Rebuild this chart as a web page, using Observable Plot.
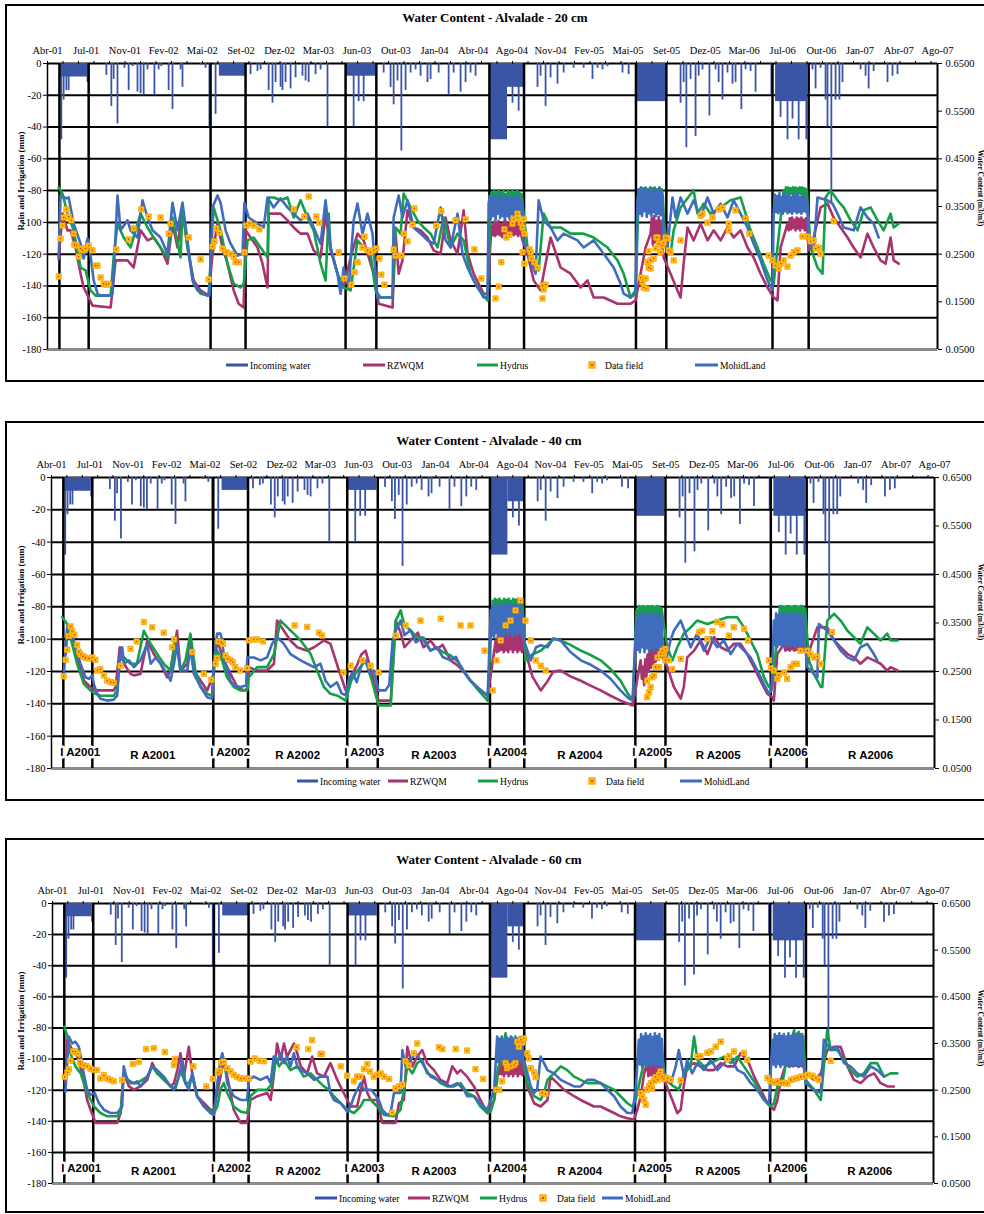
<!DOCTYPE html>
<html><head><meta charset="utf-8">
<script src="https://cdn.jsdelivr.net/npm/d3@7"></script>
<script src="https://cdn.jsdelivr.net/npm/@observablehq/plot@0.6"></script>
<style>
html,body{margin:0;padding:0;background:#fff;}
body{position:relative;width:984px;height:1214px;overflow:hidden;font-family:"Liberation Serif","Times New Roman",serif;color:#000;}
.frame{position:absolute;left:5px;width:1000px;border:2px solid #000;box-sizing:border-box;background:#fff;}
.title{position:absolute;font-weight:bold;font-size:13px;transform:translate(-50%,-50%);white-space:nowrap;}
.lg{position:absolute;font-size:9.6px;white-space:nowrap;transform:translateY(-50%);}
.lgline{position:absolute;height:3px;transform:translateY(-50%);}
.lgmark{position:absolute;width:5px;height:5px;background:#FFC000;border:1px solid #F0A020;transform:translate(-50%,-50%);}
.lgdot{position:absolute;width:2px;height:2px;background:#E0301E;transform:translate(-50%,-50%);}
.ylab{position:absolute;font-weight:bold;font-size:9px;white-space:nowrap;transform:translate(-50%,-50%) rotate(-90deg);}
.ylabR{position:absolute;font-weight:bold;font-size:7.5px;white-space:nowrap;transform:translate(-50%,-50%) rotate(90deg);}
.plot{position:absolute;left:0;}
</style></head><body>
<script>
// ---------- axis / categories ----------
// x values are days counted from 12 Apr 2001
const SPAN = 2314;
const monthLabels = ["Abr-01","Jul-01","Nov-01","Fev-02","Mai-02","Set-02","Dez-02","Mar-03","Jun-03","Out-03","Jan-04","Abr-04","Ago-04","Nov-04","Fev-05","Mai-05","Set-05","Dez-05","Mar-06","Jul-06","Out-06","Jan-07","Abr-07","Ago-07"];
const leftTicks = [-180,-160,-140,-120,-100,-80,-60,-40,-20,0];
const rightTicks = [0.05,0.15,0.25,0.35,0.45,0.55,0.65];
const seasonYears = [2001,2002,2003,2004,2005,2006];
const irrigation = [[31,107],[424,515],[775,855],[1149,1239],[1530,1609],[1885,1979]];
const seriesNames = ["Incoming water","RZWQM","Hydrus","Data field","MohidLand"];
const depthTitles = ["Water Content - Alvalade - 20 cm","Water Content - Alvalade - 40 cm","Water Content - Alvalade - 60 cm"];

// ---------- incoming water (mm, negative downward) ----------
const rainBlocks = [[34,104,-8.5],[447,515,-8],[777,853,-8],[1149,1196,-48],[1196,1238,-15],[1531,1607,-24],[1893,1976,-24]];
const rainSpikes = [[36,-48],[42,-23],[49,-17],[55,-17],[104,-12],[153,-7.5],[166,-27],[172,-10],[182,-38],[200,-3],[211,-17],[221,-2],[234,-18],[242,-19],[250,-20],[260,-4],[278,-20],[289,-4],[296,-2],[315,-17],[325,-29],[346,-4],[351,-15],[398,-1],[411,-3],[421,-40],[437,-32],[528,-7],[546,-5],[554,-4],[575,-17],[585,-25],[593,-12],[606,-15],[611,-17],[619,-12],[632,-16],[645,-9],[663,-8],[671,-11],[679,-12],[697,-7],[710,-4],[728,-40],[796,-40],[809,-24],[822,-24],[874,-6],[892,-15],[900,-26],[910,-11],[920,-55],[931,-17],[944,-6],[957,-4],[970,-8],[988,-12],[996,-10],[1017,-6],[1043,-20],[1056,-6],[1074,-18],[1087,-12],[1100,-6],[1113,-8],[1209,-25],[1225,-30],[1274,-15],[1282,-8],[1295,-27],[1308,-9],[1326,-13],[1342,-6],[1368,-3],[1394,-3],[1417,-10],[1430,-3],[1443,-4],[1456,-2],[1495,-6],[1511,-7],[1646,-25],[1654,-12],[1661,-53],[1672,-10],[1685,-46],[1693,-8],[1703,-4],[1721,-33],[1737,-4],[1745,-12],[1755,-23],[1768,-6],[1781,-13],[1789,-12],[1804,-29],[1815,-4],[1828,-5],[1841,-18],[1882,-20],[1906,-34],[1924,-48],[1937,-35],[1953,-48],[1973,-48],[1989,-4],[1997,-16],[2010,-3],[2023,-23],[2028,-40],[2038,-88],[2049,-23],[2059,-23],[2067,-12],[2114,-4],[2127,-8],[2135,-16],[2148,-5],[2184,-12],[2197,-8],[2210,-7]];

// ---------- 20 cm water content (m3/m3) ----------
const mohid20 = [[29,0.241],[34,0.373],[49,0.367],[55,0.369],[68,0.314],[86,0.272],[94,0.241],[104,0.283],[107,0.279],[120,0.195],[130,0.167],[138,0.163],[164,0.163],[169,0.167],[177,0.289],[182,0.373],[190,0.300],[208,0.321],[216,0.300],[234,0.285],[247,0.363],[260,0.327],[273,0.300],[294,0.285],[312,0.251],[325,0.358],[338,0.300],[351,0.358],[364,0.279],[377,0.195],[390,0.174],[416,0.163],[421,0.163],[429,0.348],[442,0.373],[450,0.358],[463,0.300],[476,0.272],[494,0.247],[507,0.251],[512,0.358],[523,0.327],[546,0.314],[562,0.306],[572,0.369],[588,0.348],[606,0.367],[624,0.348],[640,0.335],[658,0.321],[676,0.335],[692,0.306],[710,0.272],[723,0.363],[736,0.264],[754,0.209],[762,0.167],[770,0.222],[783,0.180],[796,0.321],[806,0.356],[819,0.293],[832,0.335],[845,0.293],[858,0.159],[897,0.159],[900,0.327],[913,0.373],[923,0.327],[936,0.363],[952,0.306],[970,0.293],[988,0.279],[1004,0.272],[1022,0.348],[1035,0.279],[1048,0.264],[1066,0.335],[1079,0.251],[1092,0.222],[1108,0.195],[1134,0.159],[1144,0.159],[1147,0.356],[1150,0.372],[1153,0.325],[1156,0.368],[1159,0.33],[1162,0.375],[1165,0.322],[1168,0.365],[1171,0.335],[1174,0.378],[1177,0.326],[1180,0.37],[1183,0.33],[1186,0.362],[1189,0.322],[1192,0.374],[1195,0.33],[1198,0.368],[1201,0.325],[1204,0.372],[1207,0.334],[1210,0.366],[1213,0.322],[1216,0.37],[1219,0.33],[1222,0.376],[1225,0.326],[1228,0.365],[1231,0.335],[1234,0.36],[1238,0.279],[1256,0.237],[1269,0.209],[1277,0.363],[1290,0.321],[1308,0.306],[1326,0.279],[1342,0.293],[1378,0.279],[1394,0.264],[1420,0.279],[1446,0.251],[1472,0.222],[1490,0.188],[1498,0.167],[1516,0.159],[1529,0.174],[1534,0.363],[1537,0.386],[1540,0.335],[1543,0.39],[1546,0.33],[1549,0.382],[1552,0.34],[1555,0.388],[1558,0.328],[1561,0.384],[1564,0.336],[1567,0.39],[1570,0.33],[1573,0.38],[1576,0.338],[1579,0.387],[1582,0.33],[1585,0.384],[1588,0.335],[1591,0.39],[1594,0.332],[1597,0.38],[1600,0.34],[1602,0.285],[1612,0.264],[1625,0.369],[1633,0.327],[1646,0.369],[1664,0.335],[1680,0.363],[1698,0.327],[1716,0.369],[1732,0.335],[1750,0.356],[1768,0.327],[1784,0.363],[1802,0.335],[1820,0.306],[1836,0.272],[1854,0.237],[1872,0.195],[1885,0.174],[1888,0.335],[1891,0.375],[1894,0.338],[1897,0.372],[1900,0.336],[1903,0.378],[1906,0.34],[1909,0.37],[1912,0.335],[1915,0.376],[1918,0.34],[1921,0.372],[1924,0.336],[1927,0.378],[1930,0.338],[1933,0.37],[1936,0.335],[1939,0.376],[1942,0.34],[1945,0.372],[1948,0.336],[1951,0.378],[1954,0.338],[1957,0.37],[1960,0.335],[1963,0.376],[1966,0.34],[1969,0.372],[1972,0.338],[1975,0.36],[1979,0.279],[1992,0.258],[2002,0.369],[2028,0.363],[2041,0.356],[2054,0.335],[2070,0.306],[2096,0.300],[2114,0.348],[2132,0.327],[2148,0.314],[2161,0.285]];
const rzwqm20 = [[29,0.241],[39,0.335],[52,0.300],[60,0.300],[73,0.264],[86,0.209],[94,0.180],[107,0.159],[117,0.142],[164,0.138],[169,0.174],[177,0.237],[190,0.237],[208,0.237],[224,0.222],[242,0.300],[260,0.279],[276,0.285],[294,0.264],[312,0.230],[325,0.314],[338,0.264],[351,0.342],[364,0.264],[380,0.195],[398,0.174],[419,0.163],[429,0.251],[442,0.314],[455,0.264],[468,0.230],[484,0.174],[497,0.146],[510,0.138],[515,0.300],[528,0.285],[546,0.264],[559,0.230],[572,0.180],[575,0.335],[588,0.335],[606,0.335],[624,0.321],[640,0.306],[658,0.293],[676,0.293],[692,0.258],[710,0.243],[723,0.335],[736,0.258],[754,0.209],[770,0.180],[788,0.243],[806,0.293],[822,0.279],[848,0.209],[861,0.146],[897,0.138],[905,0.293],[913,0.209],[923,0.237],[936,0.342],[952,0.306],[970,0.300],[988,0.285],[1004,0.258],[1022,0.251],[1035,0.327],[1048,0.279],[1066,0.251],[1082,0.342],[1092,0.251],[1108,0.209],[1134,0.167],[1144,0.167],[1152,0.279],[1155,0.31],[1158,0.29],[1161,0.318],[1164,0.288],[1167,0.315],[1170,0.292],[1173,0.32],[1176,0.29],[1179,0.312],[1182,0.286],[1185,0.318],[1188,0.295],[1191,0.32],[1194,0.29],[1197,0.314],[1200,0.288],[1203,0.32],[1206,0.294],[1209,0.316],[1212,0.29],[1215,0.32],[1218,0.292],[1221,0.315],[1224,0.288],[1227,0.32],[1230,0.295],[1235,0.279],[1248,0.251],[1264,0.195],[1282,0.174],[1290,0.209],[1308,0.285],[1334,0.222],[1360,0.209],[1386,0.180],[1404,0.195],[1420,0.159],[1446,0.159],[1482,0.146],[1516,0.146],[1529,0.153],[1542,0.209],[1555,0.264],[1568,0.293],[1571,0.325],[1574,0.27],[1577,0.33],[1580,0.275],[1583,0.32],[1586,0.27],[1589,0.328],[1592,0.28],[1595,0.32],[1598,0.27],[1602,0.243],[1620,0.209],[1638,0.174],[1646,0.159],[1654,0.230],[1664,0.306],[1680,0.279],[1698,0.314],[1716,0.279],[1732,0.300],[1750,0.279],[1768,0.306],[1784,0.285],[1802,0.300],[1820,0.264],[1836,0.243],[1854,0.209],[1872,0.180],[1888,0.159],[1898,0.153],[1906,0.264],[1924,0.314],[1927,0.30],[1930,0.325],[1933,0.302],[1936,0.327],[1939,0.305],[1942,0.322],[1945,0.30],[1948,0.327],[1951,0.304],[1954,0.324],[1957,0.30],[1960,0.327],[1963,0.305],[1966,0.322],[1969,0.30],[1972,0.325],[1975,0.305],[1979,0.258],[1992,0.285],[2010,0.348],[2028,0.356],[2044,0.327],[2062,0.306],[2080,0.285],[2096,0.264],[2114,0.243],[2132,0.293],[2148,0.264],[2166,0.237],[2179,0.230],[2192,0.285],[2200,0.237],[2213,0.230]];
const hydrus20 = [[29,0.390],[39,0.377],[52,0.335],[68,0.300],[86,0.222],[99,0.216],[112,0.174],[125,0.163],[164,0.163],[172,0.243],[182,0.314],[198,0.285],[216,0.264],[242,0.335],[260,0.306],[276,0.285],[294,0.264],[312,0.243],[325,0.327],[346,0.243],[351,0.348],[364,0.264],[380,0.188],[398,0.167],[419,0.163],[432,0.348],[450,0.300],[468,0.230],[484,0.188],[502,0.180],[510,0.188],[520,0.279],[536,0.285],[554,0.264],[572,0.243],[575,0.369],[588,0.369],[606,0.363],[624,0.369],[640,0.327],[658,0.363],[676,0.327],[692,0.300],[710,0.230],[723,0.195],[731,0.335],[736,0.264],[754,0.209],[770,0.180],[788,0.174],[806,0.279],[822,0.264],[840,0.251],[853,0.174],[866,0.159],[897,0.159],[905,0.306],[918,0.293],[926,0.377],[944,0.348],[962,0.321],[978,0.306],[996,0.293],[1014,0.264],[1030,0.327],[1048,0.264],[1066,0.293],[1082,0.279],[1100,0.209],[1118,0.180],[1144,0.153],[1152,0.348],[1155,0.38],[1158,0.355],[1161,0.384],[1164,0.352],[1167,0.378],[1170,0.356],[1173,0.384],[1176,0.35],[1179,0.38],[1182,0.358],[1185,0.384],[1188,0.352],[1191,0.376],[1194,0.355],[1197,0.384],[1200,0.35],[1203,0.38],[1206,0.356],[1209,0.384],[1212,0.352],[1215,0.378],[1218,0.355],[1221,0.384],[1224,0.35],[1227,0.38],[1230,0.355],[1233,0.376],[1236,0.348],[1248,0.264],[1264,0.222],[1277,0.216],[1290,0.335],[1308,0.306],[1334,0.306],[1360,0.293],[1394,0.293],[1420,0.285],[1456,0.264],[1482,0.237],[1498,0.209],[1516,0.159],[1529,0.167],[1537,0.377],[1540,0.365],[1543,0.39],[1546,0.363],[1549,0.388],[1552,0.366],[1555,0.39],[1558,0.364],[1561,0.386],[1564,0.367],[1567,0.39],[1570,0.363],[1573,0.388],[1576,0.366],[1579,0.39],[1582,0.364],[1585,0.386],[1588,0.368],[1591,0.39],[1594,0.364],[1597,0.386],[1600,0.37],[1603,0.314],[1612,0.264],[1620,0.251],[1628,0.300],[1646,0.348],[1680,0.384],[1690,0.335],[1706,0.356],[1724,0.335],[1750,0.348],[1776,0.363],[1802,0.369],[1815,0.335],[1828,0.300],[1846,0.264],[1862,0.230],[1880,0.195],[1888,0.188],[1898,0.264],[1914,0.384],[1917,0.376],[1920,0.39],[1923,0.377],[1926,0.39],[1929,0.375],[1932,0.388],[1935,0.377],[1938,0.39],[1941,0.376],[1944,0.39],[1947,0.375],[1950,0.388],[1953,0.377],[1956,0.39],[1959,0.376],[1962,0.39],[1965,0.375],[1968,0.388],[1971,0.377],[1974,0.386],[1984,0.264],[2002,0.222],[2015,0.209],[2023,0.369],[2036,0.384],[2054,0.363],[2070,0.348],[2088,0.321],[2106,0.300],[2122,0.342],[2140,0.348],[2158,0.321],[2174,0.300],[2192,0.335],[2200,0.306],[2213,0.314]];
const field20 = [[29,0.203],[34,0.283],[39,0.310],[42,0.327],[49,0.344],[55,0.329],[62,0.321],[68,0.293],[70,0.270],[75,0.268],[81,0.245],[86,0.262],[91,0.258],[99,0.262],[107,0.268],[117,0.258],[125,0.226],[130,0.226],[138,0.201],[146,0.188],[153,0.186],[159,0.188],[179,0.260],[211,0.281],[224,0.304],[244,0.344],[263,0.329],[294,0.327],[315,0.293],[320,0.314],[367,0.285],[398,0.239],[419,0.197],[429,0.266],[434,0.277],[439,0.304],[447,0.295],[455,0.262],[465,0.254],[476,0.251],[484,0.245],[489,0.233],[497,0.233],[512,0.254],[517,0.310],[525,0.314],[536,0.310],[551,0.302],[640,0.344],[668,0.329],[679,0.371],[699,0.329],[707,0.316],[757,0.254],[772,0.199],[790,0.186],[798,0.212],[806,0.233],[819,0.264],[824,0.287],[832,0.258],[840,0.254],[848,0.258],[855,0.262],[863,0.241],[868,0.207],[876,0.186],[900,0.260],[905,0.247],[920,0.247],[926,0.293],[936,0.277],[949,0.312],[954,0.346],[1011,0.310],[1024,0.340],[1061,0.321],[1087,0.323],[1110,0.260],[1128,0.199],[1165,0.157],[1173,0.182],[1180,0.233],[1188,0.302],[1193,0.285],[1201,0.291],[1209,0.314],[1212,0.323],[1222,0.335],[1222,0.327],[1230,0.316],[1235,0.306],[1238,0.323],[1240,0.293],[1235,0.254],[1240,0.230],[1253,0.260],[1256,0.254],[1258,0.241],[1266,0.233],[1274,0.222],[1287,0.184],[1295,0.186],[1290,0.176],[1287,0.157],[1542,0.201],[1547,0.191],[1550,0.180],[1555,0.199],[1557,0.178],[1560,0.233],[1563,0.222],[1563,0.256],[1568,0.237],[1568,0.220],[1576,0.241],[1581,0.262],[1583,0.285],[1586,0.285],[1589,0.272],[1594,0.254],[1599,0.268],[1602,0.274],[1607,0.285],[1612,0.283],[1615,0.258],[1620,0.254],[1628,0.237],[1646,0.279],[1698,0.331],[1703,0.335],[1716,0.316],[1729,0.327],[1745,0.344],[1755,0.348],[1771,0.314],[1771,0.300],[1789,0.342],[1815,0.325],[1825,0.293],[1875,0.247],[1885,0.237],[1893,0.226],[1901,0.220],[1906,0.230],[1914,0.237],[1924,0.224],[1932,0.247],[1940,0.254],[1950,0.258],[1963,0.287],[1976,0.287],[1984,0.277],[1992,0.279],[1997,0.262],[2005,0.264],[2010,0.251],[2044,0.319]];

// ---------- 40 cm water content ----------
const mohid40 = [[32,0.240],[41,0.341],[54,0.328],[63,0.300],[76,0.266],[89,0.238],[98,0.235],[107,0.242],[111,0.224],[120,0.204],[128,0.194],[146,0.190],[163,0.192],[172,0.200],[179,0.279],[185,0.300],[190,0.266],[203,0.273],[216,0.259],[233,0.273],[251,0.307],[260,0.266],[273,0.279],[286,0.266],[303,0.245],[312,0.231],[321,0.266],[329,0.307],[338,0.252],[356,0.252],[364,0.300],[373,0.245],[391,0.218],[408,0.197],[421,0.194],[425,0.266],[434,0.328],[443,0.328],[447,0.314],[453,0.273],[469,0.231],[478,0.221],[495,0.218],[510,0.221],[513,0.279],[530,0.279],[548,0.273],[565,0.279],[578,0.307],[591,0.321],[609,0.307],[626,0.286],[653,0.273],[670,0.266],[688,0.259],[705,0.266],[718,0.231],[731,0.218],[748,0.228],[760,0.205],[771,0.201],[780,0.235],[789,0.248],[800,0.228],[812,0.262],[823,0.273],[835,0.245],[845,0.252],[857,0.211],[875,0.211],[885,0.222],[894,0.314],[905,0.340],[915,0.355],[925,0.325],[941,0.335],[955,0.310],[970,0.320],[993,0.293],[1010,0.300],[1025,0.280],[1046,0.273],[1060,0.280],[1075,0.255],[1098,0.231],[1120,0.215],[1143,0.200],[1151,0.376],[1154,0.325],[1157,0.385],[1160,0.32],[1163,0.39],[1166,0.33],[1169,0.382],[1172,0.322],[1175,0.388],[1178,0.328],[1181,0.39],[1184,0.32],[1187,0.384],[1190,0.33],[1193,0.39],[1196,0.324],[1199,0.386],[1202,0.33],[1205,0.39],[1208,0.322],[1211,0.384],[1214,0.328],[1217,0.39],[1220,0.325],[1223,0.385],[1226,0.33],[1229,0.388],[1232,0.325],[1235,0.37],[1238,0.314],[1256,0.273],[1270,0.300],[1282,0.304],[1300,0.300],[1315,0.318],[1334,0.314],[1360,0.290],[1387,0.273],[1410,0.265],[1439,0.252],[1465,0.235],[1491,0.211],[1510,0.196],[1523,0.190],[1533,0.355],[1536,0.295],[1539,0.368],[1542,0.29],[1545,0.37],[1548,0.3],[1551,0.365],[1554,0.29],[1557,0.37],[1560,0.298],[1563,0.366],[1566,0.29],[1569,0.37],[1572,0.3],[1575,0.364],[1578,0.292],[1581,0.37],[1584,0.298],[1587,0.366],[1590,0.29],[1593,0.37],[1596,0.3],[1599,0.36],[1602,0.3],[1609,0.266],[1622,0.314],[1631,0.334],[1649,0.355],[1675,0.300],[1692,0.328],[1710,0.293],[1727,0.321],[1745,0.300],[1762,0.314],[1780,0.286],[1797,0.307],[1815,0.293],[1832,0.279],[1850,0.252],[1867,0.224],[1880,0.204],[1887,0.211],[1893,0.355],[1896,0.305],[1899,0.37],[1902,0.3],[1905,0.366],[1908,0.306],[1911,0.37],[1914,0.3],[1917,0.368],[1920,0.305],[1923,0.37],[1926,0.3],[1929,0.365],[1932,0.306],[1935,0.37],[1938,0.3],[1941,0.368],[1944,0.305],[1947,0.37],[1950,0.3],[1953,0.366],[1956,0.306],[1959,0.37],[1962,0.3],[1965,0.368],[1968,0.305],[1971,0.365],[1974,0.31],[1981,0.259],[1998,0.245],[2007,0.238],[2011,0.348],[2033,0.334],[2051,0.314],[2068,0.293],[2086,0.279],[2103,0.273],[2120,0.300],[2138,0.307],[2155,0.286],[2164,0.273]];
const rzwqm40 = [[37,0.286],[41,0.328],[54,0.314],[67,0.279],[85,0.231],[102,0.218],[115,0.211],[128,0.211],[163,0.211],[168,0.218],[179,0.300],[190,0.266],[207,0.245],[216,0.242],[233,0.245],[251,0.314],[268,0.286],[286,0.266],[303,0.238],[312,0.252],[329,0.334],[338,0.252],[356,0.266],[364,0.321],[373,0.252],[391,0.231],[408,0.211],[425,0.245],[434,0.314],[452,0.273],[469,0.245],[487,0.218],[504,0.211],[513,0.214],[517,0.259],[539,0.252],[565,0.252],[583,0.266],[591,0.355],[609,0.334],[626,0.314],[644,0.300],[670,0.293],[688,0.300],[714,0.314],[731,0.307],[750,0.260],[771,0.211],[785,0.240],[800,0.262],[812,0.285],[823,0.293],[840,0.245],[857,0.190],[889,0.190],[902,0.355],[915,0.330],[925,0.300],[941,0.314],[960,0.330],[975,0.300],[993,0.314],[1010,0.296],[1025,0.305],[1046,0.273],[1065,0.262],[1080,0.250],[1098,0.231],[1120,0.214],[1143,0.200],[1164,0.314],[1167,0.29],[1170,0.328],[1173,0.292],[1176,0.33],[1179,0.295],[1182,0.326],[1185,0.29],[1188,0.33],[1191,0.294],[1194,0.328],[1197,0.29],[1200,0.33],[1203,0.296],[1206,0.326],[1209,0.29],[1212,0.33],[1215,0.295],[1218,0.328],[1221,0.29],[1224,0.33],[1227,0.294],[1230,0.326],[1233,0.29],[1236,0.32],[1242,0.293],[1260,0.240],[1282,0.211],[1300,0.230],[1315,0.250],[1334,0.252],[1360,0.240],[1387,0.231],[1410,0.222],[1439,0.211],[1465,0.200],[1491,0.190],[1523,0.180],[1544,0.273],[1547,0.235],[1550,0.26],[1553,0.222],[1556,0.275],[1559,0.24],[1562,0.285],[1565,0.25],[1568,0.295],[1571,0.258],[1574,0.3],[1577,0.265],[1580,0.31],[1583,0.27],[1586,0.315],[1589,0.275],[1592,0.32],[1595,0.28],[1598,0.318],[1601,0.28],[1614,0.259],[1631,0.218],[1649,0.194],[1657,0.218],[1666,0.279],[1684,0.293],[1701,0.314],[1719,0.286],[1736,0.321],[1754,0.300],[1771,0.293],[1788,0.307],[1806,0.307],[1823,0.286],[1841,0.259],[1858,0.231],[1876,0.204],[1889,0.197],[1893,0.190],[1902,0.286],[1920,0.307],[1923,0.293],[1926,0.32],[1929,0.295],[1932,0.321],[1935,0.293],[1938,0.318],[1941,0.296],[1944,0.321],[1947,0.293],[1950,0.32],[1953,0.295],[1956,0.321],[1959,0.293],[1962,0.318],[1965,0.296],[1968,0.321],[1971,0.293],[1974,0.31],[1981,0.266],[1989,0.300],[2007,0.341],[2033,0.341],[2051,0.314],[2068,0.300],[2086,0.286],[2103,0.279],[2120,0.266],[2138,0.279],[2155,0.273],[2173,0.266],[2190,0.252],[2199,0.259],[2217,0.252]];
const hydrus40 = [[28,0.362],[41,0.348],[54,0.307],[67,0.266],[85,0.224],[102,0.211],[115,0.204],[128,0.200],[163,0.200],[172,0.211],[179,0.273],[190,0.279],[207,0.266],[224,0.266],[242,0.334],[260,0.307],[277,0.286],[294,0.266],[312,0.252],[325,0.321],[338,0.252],[351,0.273],[364,0.328],[377,0.252],[391,0.218],[408,0.204],[421,0.200],[425,0.259],[434,0.293],[447,0.273],[460,0.238],[478,0.218],[495,0.211],[513,0.211],[517,0.238],[539,0.259],[565,0.259],[583,0.286],[600,0.355],[618,0.341],[635,0.328],[653,0.314],[679,0.286],[696,0.252],[714,0.218],[731,0.204],[750,0.200],[771,0.190],[785,0.230],[800,0.250],[812,0.262],[823,0.273],[840,0.230],[857,0.180],[889,0.180],[902,0.355],[915,0.376],[925,0.345],[941,0.335],[960,0.318],[975,0.320],[993,0.293],[1010,0.300],[1025,0.290],[1046,0.283],[1065,0.270],[1080,0.252],[1098,0.231],[1120,0.210],[1143,0.190],[1156,0.396],[1159,0.362],[1162,0.4],[1165,0.365],[1168,0.398],[1171,0.36],[1174,0.4],[1177,0.366],[1180,0.396],[1183,0.362],[1186,0.4],[1189,0.365],[1192,0.398],[1195,0.36],[1198,0.4],[1201,0.366],[1204,0.396],[1207,0.362],[1210,0.4],[1213,0.365],[1216,0.398],[1219,0.36],[1222,0.4],[1225,0.366],[1228,0.396],[1231,0.362],[1234,0.39],[1242,0.273],[1260,0.285],[1282,0.293],[1300,0.305],[1315,0.318],[1334,0.314],[1360,0.305],[1387,0.293],[1410,0.285],[1439,0.273],[1465,0.255],[1491,0.231],[1510,0.205],[1523,0.190],[1533,0.376],[1536,0.356],[1539,0.385],[1542,0.358],[1545,0.384],[1548,0.355],[1551,0.385],[1554,0.36],[1557,0.383],[1560,0.356],[1563,0.385],[1566,0.358],[1569,0.384],[1572,0.355],[1575,0.385],[1578,0.36],[1581,0.383],[1584,0.356],[1587,0.385],[1590,0.358],[1593,0.384],[1596,0.355],[1599,0.38],[1602,0.36],[1614,0.300],[1627,0.273],[1640,0.300],[1657,0.328],[1675,0.341],[1692,0.355],[1719,0.348],[1745,0.355],[1771,0.362],[1797,0.362],[1815,0.341],[1832,0.314],[1850,0.286],[1867,0.238],[1880,0.218],[1889,0.218],[1893,0.252],[1906,0.355],[1909,0.385],[1912,0.362],[1915,0.385],[1918,0.36],[1921,0.383],[1924,0.364],[1927,0.385],[1930,0.36],[1933,0.385],[1936,0.362],[1939,0.383],[1942,0.36],[1945,0.385],[1948,0.364],[1951,0.385],[1954,0.36],[1957,0.383],[1960,0.362],[1963,0.385],[1966,0.36],[1969,0.385],[1972,0.364],[1975,0.38],[1985,0.273],[1998,0.245],[2016,0.218],[2020,0.218],[2033,0.355],[2051,0.369],[2068,0.355],[2086,0.334],[2103,0.321],[2120,0.307],[2138,0.341],[2155,0.328],[2173,0.314],[2190,0.328],[2199,0.314],[2217,0.314]];
const field40 = [[32,0.240],[37,0.274],[41,0.295],[45,0.323],[50,0.343],[54,0.333],[60,0.326],[67,0.305],[72,0.291],[76,0.285],[83,0.281],[89,0.278],[98,0.277],[107,0.279],[115,0.274],[120,0.252],[128,0.255],[137,0.242],[146,0.231],[155,0.228],[163,0.227],[181,0.262],[207,0.297],[223,0.312],[242,0.352],[264,0.341],[294,0.330],[316,0.300],[321,0.316],[369,0.290],[399,0.245],[419,0.233],[430,0.266],[434,0.278],[437,0.312],[445,0.310],[449,0.307],[456,0.283],[462,0.276],[469,0.273],[475,0.269],[482,0.259],[495,0.252],[513,0.257],[517,0.314],[530,0.316],[539,0.316],[554,0.312],[637,0.345],[670,0.342],[701,0.330],[709,0.324],[765,0.248],[784,0.262],[815,0.273],[836,0.262],[857,0.248],[902,0.324],[928,0.345],[967,0.355],[1020,0.359],[1072,0.345],[1098,0.345],[1135,0.293],[1156,0.211],[1166,0.273],[1177,0.314],[1190,0.345],[1203,0.355],[1216,0.376],[1229,0.396],[1242,0.355],[1256,0.314],[1269,0.273],[1282,0.262],[1295,0.252],[1561,0.197],[1566,0.207],[1570,0.218],[1574,0.238],[1561,0.231],[1579,0.242],[1583,0.259],[1592,0.259],[1588,0.279],[1596,0.286],[1601,0.293],[1605,0.286],[1609,0.297],[1609,0.273],[1618,0.273],[1627,0.255],[1649,0.276],[1697,0.331],[1705,0.334],[1719,0.317],[1732,0.333],[1745,0.352],[1758,0.347],[1775,0.324],[1788,0.341],[1815,0.338],[1825,0.314],[1880,0.273],[1885,0.257],[1893,0.252],[1902,0.235],[1906,0.242],[1920,0.248],[1928,0.235],[1937,0.259],[1946,0.266],[1954,0.266],[1963,0.293],[1981,0.293],[1989,0.286],[1998,0.279],[2007,0.281],[2016,0.266],[2046,0.331]];

// ---------- 60 cm water content ----------
const mohid60 = [[34,0.247],[43,0.365],[52,0.350],[60,0.354],[69,0.343],[74,0.322],[82,0.286],[91,0.251],[100,0.240],[111,0.244],[122,0.222],[135,0.208],[152,0.201],[170,0.201],[183,0.215],[187,0.301],[196,0.272],[214,0.265],[222,0.269],[231,0.258],[249,0.279],[262,0.301],[275,0.293],[292,0.279],[310,0.258],[319,0.251],[332,0.279],[341,0.315],[349,0.265],[358,0.251],[367,0.286],[380,0.237],[398,0.215],[415,0.201],[424,0.197],[433,0.265],[441,0.315],[446,0.329],[452,0.308],[459,0.265],[476,0.237],[494,0.229],[511,0.229],[516,0.272],[529,0.279],[546,0.272],[564,0.279],[573,0.265],[581,0.322],[590,0.308],[599,0.329],[608,0.308],[616,0.322],[625,0.301],[634,0.329],[643,0.301],[652,0.293],[669,0.286],[687,0.272],[704,0.279],[722,0.279],[730,0.244],[739,0.229],[757,0.222],[774,0.204],[783,0.215],[792,0.237],[809,0.265],[818,0.251],[836,0.251],[844,0.244],[857,0.229],[866,0.208],[879,0.197],[888,0.201],[897,0.244],[914,0.244],[919,0.336],[927,0.301],[941,0.315],[954,0.329],[967,0.315],[976,0.301],[993,0.279],[1011,0.272],[1028,0.265],[1046,0.258],[1063,0.265],[1081,0.251],[1089,0.237],[1107,0.237],[1124,0.222],[1142,0.208],[1151,0.229],[1160,0.251],[1168,0.365],[1171,0.31],[1174,0.36],[1177,0.315],[1180,0.365],[1183,0.308],[1186,0.356],[1189,0.312],[1192,0.365],[1195,0.31],[1198,0.36],[1201,0.315],[1204,0.365],[1207,0.308],[1210,0.358],[1213,0.312],[1216,0.365],[1219,0.31],[1222,0.36],[1225,0.315],[1228,0.364],[1231,0.31],[1234,0.355],[1237,0.315],[1243,0.301],[1256,0.258],[1265,0.244],[1273,0.251],[1282,0.322],[1291,0.308],[1300,0.293],[1317,0.286],[1335,0.272],[1352,0.265],[1370,0.258],[1387,0.258],[1405,0.272],[1422,0.272],[1440,0.265],[1457,0.251],[1475,0.237],[1492,0.215],[1510,0.201],[1523,0.201],[1532,0.251],[1540,0.358],[1543,0.305],[1546,0.37],[1549,0.3],[1552,0.365],[1555,0.308],[1558,0.372],[1561,0.3],[1564,0.366],[1567,0.305],[1570,0.37],[1573,0.302],[1576,0.364],[1579,0.308],[1582,0.372],[1585,0.3],[1588,0.366],[1591,0.305],[1594,0.37],[1597,0.302],[1600,0.36],[1606,0.279],[1624,0.265],[1637,0.301],[1645,0.336],[1659,0.279],[1667,0.315],[1680,0.286],[1694,0.308],[1711,0.293],[1729,0.315],[1746,0.293],[1764,0.308],[1781,0.322],[1799,0.293],[1816,0.286],[1834,0.265],[1851,0.251],[1869,0.229],[1882,0.222],[1891,0.358],[1894,0.305],[1897,0.37],[1900,0.3],[1903,0.366],[1906,0.306],[1909,0.372],[1912,0.3],[1915,0.366],[1918,0.305],[1921,0.37],[1924,0.302],[1927,0.365],[1930,0.306],[1933,0.372],[1936,0.3],[1939,0.366],[1942,0.305],[1945,0.37],[1948,0.302],[1951,0.365],[1954,0.306],[1957,0.372],[1960,0.3],[1963,0.366],[1966,0.305],[1969,0.37],[1972,0.31],[1978,0.265],[2000,0.251],[2018,0.244],[2026,0.358],[2044,0.336],[2061,0.343],[2079,0.308],[2096,0.301],[2114,0.286],[2131,0.279],[2149,0.301],[2166,0.293],[2184,0.279]];
const rzwqm60 = [[34,0.265],[39,0.358],[52,0.336],[65,0.322],[78,0.286],[91,0.229],[100,0.208],[113,0.180],[170,0.180],[179,0.201],[187,0.286],[201,0.258],[214,0.251],[231,0.258],[249,0.272],[262,0.308],[275,0.286],[292,0.279],[310,0.258],[319,0.265],[328,0.293],[336,0.329],[345,0.279],[358,0.343],[367,0.286],[380,0.237],[398,0.222],[415,0.208],[424,0.208],[441,0.279],[450,0.315],[459,0.279],[476,0.208],[494,0.180],[511,0.180],[520,0.229],[538,0.237],[564,0.244],[573,0.229],[581,0.279],[590,0.350],[599,0.315],[608,0.350],[616,0.322],[625,0.336],[634,0.350],[643,0.329],[652,0.301],[669,0.286],[682,0.322],[695,0.286],[713,0.279],[730,0.308],[748,0.272],[765,0.244],[783,0.215],[800,0.215],[818,0.279],[827,0.244],[836,0.229],[853,0.229],[866,0.180],[901,0.180],[910,0.222],[923,0.229],[932,0.343],[945,0.301],[958,0.322],[971,0.336],[984,0.308],[1002,0.293],[1019,0.272],[1037,0.265],[1050,0.301],[1063,0.286],[1072,0.293],[1089,0.279],[1107,0.258],[1124,0.229],[1142,0.201],[1160,0.229],[1168,0.272],[1171,0.3],[1174,0.285],[1177,0.32],[1180,0.284],[1183,0.318],[1186,0.28],[1189,0.322],[1192,0.286],[1195,0.318],[1198,0.28],[1201,0.322],[1204,0.285],[1207,0.316],[1210,0.28],[1213,0.322],[1216,0.286],[1219,0.318],[1222,0.28],[1225,0.32],[1228,0.285],[1231,0.318],[1234,0.282],[1237,0.31],[1247,0.258],[1265,0.222],[1282,0.215],[1300,0.229],[1308,0.279],[1326,0.265],[1343,0.251],[1370,0.237],[1387,0.229],[1405,0.222],[1422,0.215],[1440,0.215],[1457,0.208],[1475,0.201],[1492,0.194],[1510,0.190],[1527,0.187],[1536,0.208],[1545,0.237],[1554,0.286],[1562,0.308],[1565,0.28],[1568,0.315],[1571,0.282],[1574,0.314],[1577,0.28],[1580,0.315],[1583,0.284],[1586,0.312],[1589,0.28],[1592,0.315],[1595,0.282],[1598,0.31],[1601,0.28],[1610,0.265],[1628,0.229],[1641,0.201],[1650,0.208],[1659,0.265],[1667,0.301],[1685,0.308],[1702,0.301],[1720,0.293],[1737,0.293],[1755,0.308],[1772,0.301],[1790,0.301],[1807,0.329],[1825,0.315],[1843,0.279],[1860,0.251],[1878,0.222],[1895,0.208],[1904,0.229],[1913,0.272],[1930,0.315],[1933,0.301],[1936,0.315],[1939,0.302],[1942,0.314],[1945,0.301],[1948,0.315],[1951,0.303],[1954,0.314],[1957,0.301],[1960,0.315],[1963,0.302],[1966,0.314],[1969,0.301],[1972,0.312],[1978,0.286],[2000,0.272],[2018,0.286],[2035,0.336],[2053,0.343],[2070,0.343],[2088,0.301],[2105,0.272],[2123,0.265],[2140,0.279],[2158,0.286],[2175,0.265],[2193,0.258],[2210,0.258]];
const hydrus60 = [[31,0.386],[39,0.365],[47,0.329],[60,0.301],[74,0.286],[91,0.244],[109,0.215],[126,0.201],[144,0.194],[170,0.194],[179,0.201],[187,0.286],[205,0.265],[222,0.265],[249,0.279],[262,0.301],[275,0.286],[292,0.272],[310,0.258],[323,0.254],[336,0.293],[349,0.265],[358,0.265],[367,0.279],[380,0.237],[398,0.215],[424,0.201],[433,0.215],[441,0.251],[450,0.265],[459,0.244],[476,0.215],[494,0.204],[511,0.201],[520,0.237],[538,0.251],[564,0.251],[577,0.265],[586,0.322],[595,0.301],[608,0.315],[625,0.293],[643,0.301],[660,0.279],[678,0.286],[695,0.272],[713,0.258],[726,0.251],[739,0.237],[757,0.222],[774,0.208],[792,0.201],[809,0.215],[818,0.229],[836,0.229],[853,0.215],[871,0.197],[897,0.194],[914,0.208],[923,0.251],[932,0.301],[945,0.286],[958,0.308],[971,0.315],[984,0.286],[1002,0.279],[1019,0.265],[1037,0.258],[1054,0.258],[1072,0.265],[1089,0.244],[1107,0.237],[1124,0.215],[1142,0.201],[1151,0.204],[1160,0.229],[1168,0.286],[1177,0.315],[1190,0.372],[1193,0.33],[1196,0.36],[1199,0.322],[1202,0.355],[1205,0.325],[1208,0.362],[1211,0.32],[1214,0.35],[1217,0.326],[1220,0.36],[1223,0.322],[1226,0.352],[1229,0.325],[1232,0.345],[1235,0.32],[1247,0.265],[1265,0.237],[1282,0.229],[1291,0.244],[1300,0.272],[1317,0.286],[1335,0.301],[1352,0.293],[1370,0.279],[1387,0.272],[1405,0.265],[1440,0.265],[1457,0.258],[1475,0.251],[1492,0.237],[1510,0.222],[1523,0.215],[1532,0.229],[1545,0.279],[1562,0.336],[1565,0.31],[1568,0.35],[1571,0.312],[1574,0.348],[1577,0.31],[1580,0.35],[1583,0.314],[1586,0.346],[1589,0.31],[1592,0.35],[1595,0.312],[1598,0.345],[1610,0.272],[1632,0.258],[1645,0.251],[1659,0.286],[1676,0.301],[1685,0.365],[1694,0.315],[1711,0.301],[1729,0.308],[1746,0.315],[1764,0.322],[1781,0.308],[1799,0.322],[1816,0.301],[1834,0.279],[1851,0.258],[1869,0.229],[1886,0.215],[1895,0.222],[1904,0.258],[1917,0.265],[1930,0.322],[1948,0.379],[1951,0.33],[1954,0.37],[1957,0.325],[1960,0.375],[1963,0.33],[1966,0.37],[1969,0.325],[1972,0.365],[1978,0.272],[2000,0.251],[2018,0.229],[2026,0.301],[2035,0.379],[2044,0.336],[2061,0.336],[2079,0.315],[2096,0.293],[2114,0.279],[2131,0.286],[2149,0.308],[2166,0.308],[2184,0.279],[2201,0.286],[2219,0.286]];
const field60 = [[32,0.278],[39,0.288],[43,0.295],[47,0.313],[54,0.333],[60,0.333],[67,0.328],[72,0.311],[74,0.306],[82,0.303],[91,0.301],[100,0.296],[109,0.293],[117,0.293],[126,0.275],[135,0.282],[144,0.275],[152,0.272],[161,0.269],[183,0.272],[211,0.306],[227,0.311],[246,0.338],[266,0.340],[295,0.332],[319,0.304],[321,0.317],[370,0.301],[404,0.258],[421,0.274],[434,0.288],[439,0.292],[443,0.309],[450,0.311],[459,0.297],[468,0.290],[476,0.283],[485,0.278],[494,0.275],[503,0.275],[516,0.275],[520,0.311],[531,0.318],[544,0.313],[555,0.312],[641,0.342],[672,0.338],[682,0.357],[704,0.327],[708,0.328],[757,0.301],[774,0.281],[792,0.269],[800,0.279],[809,0.279],[818,0.295],[827,0.306],[834,0.290],[844,0.279],[853,0.283],[862,0.286],[871,0.279],[884,0.274],[892,0.202],[901,0.254],[910,0.258],[919,0.262],[927,0.312],[936,0.303],[949,0.329],[958,0.350],[1015,0.342],[1024,0.338],[1059,0.338],[1089,0.335],[1111,0.295],[1131,0.274],[1166,0.251],[1173,0.251],[1181,0.269],[1190,0.308],[1194,0.297],[1203,0.301],[1212,0.304],[1216,0.308],[1221,0.354],[1225,0.343],[1230,0.358],[1234,0.352],[1238,0.361],[1247,0.329],[1251,0.318],[1256,0.297],[1265,0.288],[1269,0.278],[1286,0.244],[1295,0.242],[1545,0.244],[1549,0.237],[1554,0.229],[1558,0.219],[1562,0.251],[1567,0.258],[1571,0.265],[1575,0.254],[1580,0.269],[1584,0.278],[1589,0.272],[1593,0.283],[1597,0.290],[1602,0.279],[1606,0.274],[1615,0.276],[1624,0.272],[1650,0.271],[1694,0.322],[1702,0.323],[1720,0.330],[1729,0.333],[1742,0.343],[1755,0.354],[1772,0.316],[1777,0.323],[1790,0.333],[1816,0.330],[1825,0.315],[1878,0.276],[1886,0.269],[1895,0.266],[1904,0.269],[1913,0.265],[1921,0.266],[1930,0.264],[1939,0.272],[1948,0.274],[1956,0.276],[1965,0.279],[1974,0.279],[1983,0.283],[1996,0.281],[2005,0.276],[2013,0.272],[2044,0.313]];

// ---------- styling ----------
const RAIN = "#3A55A5", MOHID = "#3F6CBD", RZ = "#A8336F", HY = "#14A048", FIELD = "#FFC000";
const toMm = wc => (wc - 0.65) * 300;      // right axis (m3/m3) onto left axis (mm)
const toWc = mm => 0.65 + mm / 300;
const STEP = SPAN / (monthLabels.length - 1);
const labelTicks = monthLabels.map((_, i) => i * STEP);
const minorTicks = d3.range(0, SPAN + 1, 40.3);

const panels = [
  {title: depthTitles[0], frameTop: 4, frameBottom: 382, titleX: 495, titleY: 18, top: 63, bottom: 349, left: 47, right: 937, legendY: 365,
   lg: [[226,248,250],[363,385,387],[477,498,500],[592,605],[695,718,720]], seasons: false,
   rz: rzwqm20, hy: hydrus20, mo: mohid20, fd: field20},
  {title: depthTitles[1], frameTop: 421, frameBottom: 801, titleX: 489, titleY: 441, top: 477, bottom: 768, left: 51, right: 934, legendY: 781,
   lg: [[297,318,320],[388,408,410],[478,498,500],[592,606],[680,702,704]], seasons: true,
   rz: rzwqm40, hy: hydrus40, mo: mohid40, fd: field40},
  {title: depthTitles[2], frameTop: 838, frameBottom: 1213, titleX: 489, titleY: 860, top: 903, bottom: 1183, left: 52, right: 933, legendY: 1198,
   lg: [[315,337,339],[408,430,432],[480,497,499],[543,557],[602,623,625]], seasons: true,
   rz: rzwqm60, hy: hydrus60, mo: mohid60, fd: field60}
];

function el(cls, style, text) {
  const d = document.createElement("div");
  d.className = cls;
  Object.assign(d.style, style);
  if (text != null) d.textContent = text;
  document.body.appendChild(d);
  return d;
}

const seasonI = irrigation.map((p, i) => ({x: p[0], label: "I A" + seasonYears[i]}));
const seasonR = irrigation.map((p, i) => ({x: (p[1] + (i + 1 < irrigation.length ? irrigation[i + 1][0] : SPAN)) / 2, label: "R A" + seasonYears[i]}));

panels.forEach(P => {
  el("frame", {top: P.frameTop + "px", height: (P.frameBottom - P.frameTop) + "px"});
  el("title", {left: P.titleX + "px", top: P.titleY + "px"}, P.title);

  const mt = 24, mb = 4;
  const H = mt + (P.bottom - P.top) + mb;
  const xy = {x: d => d[0], y: d => toMm(d[1])};
  const marks = [
    Plot.ruleY(leftTicks.filter(v => v > -180), {stroke: "#000", strokeWidth: 2}),
    Plot.ruleY([-180], {stroke: "#8a8a8a", strokeWidth: 3}),
    Plot.rect(rainBlocks, {x1: d => d[0], x2: d => d[1], y1: 0, y2: d => d[2], fill: RAIN}),
    Plot.ruleX(rainSpikes, {x: d => d[0], y1: 0, y2: d => d[1], stroke: RAIN, strokeWidth: 1.8}),
    Plot.ruleX(irrigation.flat(), {stroke: "#000", strokeWidth: 2.5}),
    Plot.line(P.rz, {...xy, stroke: RZ, strokeWidth: 2.6}),
    Plot.line(P.hy, {...xy, stroke: HY, strokeWidth: 2.6}),
    Plot.line(P.mo, {...xy, stroke: MOHID, strokeWidth: 2.6}),
    Plot.dot(P.fd, {...xy, symbol: "square", r: 3, fill: FIELD, stroke: "#F2A51A", strokeWidth: 0.8}),
    Plot.dot(P.fd, {...xy, r: 0.8, fill: "#E0301E", stroke: null}),
    Plot.ruleX([0], {stroke: "#000", strokeWidth: 1.5}),
    Plot.ruleX([SPAN], {stroke: "#000", strokeWidth: 2}),
    Plot.axisX({anchor: "top", ticks: minorTicks, tickFormat: () => "", tickSize: 3, label: null}),
    Plot.axisX({anchor: "top", ticks: labelTicks, tickFormat: d => monthLabels[Math.round(d / STEP)], tickSize: 0, tickPadding: 10, label: null}),
    Plot.axisY({anchor: "left", ticks: leftTicks, tickFormat: d => String(d), tickSize: 4, tickPadding: 2, label: null}),
    Plot.axisY({anchor: "right", ticks: rightTicks.map(toMm), tickFormat: d => toWc(d).toFixed(4), tickSize: 4, tickPadding: 4, label: null})
  ];
  if (P.seasons) {
    marks.push(Plot.text(seasonI, {x: "x", y: -170, text: "label", textAnchor: "start", dx: -3, fill: "#000", stroke: "#fff", strokeWidth: 5, paintOrder: "stroke", fontWeight: "bold", fontSize: 11.5, fontFamily: "Liberation Sans, Arial, sans-serif"}));
    marks.push(Plot.text(seasonR, {x: "x", y: -172, text: "label", textAnchor: "middle", fill: "#000", stroke: "#fff", strokeWidth: 5, paintOrder: "stroke", fontWeight: "bold", fontSize: 11.5, fontFamily: "Liberation Sans, Arial, sans-serif"}));
  }
  const svg = Plot.plot({
    width: 984, height: H,
    marginLeft: P.left, marginRight: 984 - P.right, marginTop: mt, marginBottom: mb,
    x: {type: "linear", domain: [0, SPAN], axis: null},
    y: {domain: [-180, 0], axis: null},
    style: {fontFamily: '"Liberation Serif", "Times New Roman", serif', fontSize: "10.5px", color: "#000", background: "transparent", overflow: "visible"},
    marks
  });
  const wrap = el("plot", {top: (P.top - mt) + "px"});
  wrap.appendChild(svg);

  // axis titles
  el("ylab", {left: "21px", top: (P.top + 118) + "px"}, "Rain and Irrigation (mm)");
  el("ylabR", {left: "979.5px", top: (P.top + 125) + "px"}, "Water Content (m3/m3)");

  // legend
  const y = P.legendY + "px";
  const colors = [RAIN, RZ, HY, null, MOHID];
  P.lg.forEach((it, i) => {
    if (i === 3) {
      el("lgmark", {left: it[0] + "px", top: y});
      el("lgdot", {left: it[0] + "px", top: y});
      el("lg", {left: it[1] + "px", top: y}, seriesNames[i]);
    } else {
      el("lgline", {left: it[0] + "px", width: (it[1] - it[0]) + "px", top: y, background: colors[i]});
      el("lg", {left: it[2] + "px", top: y}, seriesNames[i]);
    }
  });
});
</script>
</body></html>
